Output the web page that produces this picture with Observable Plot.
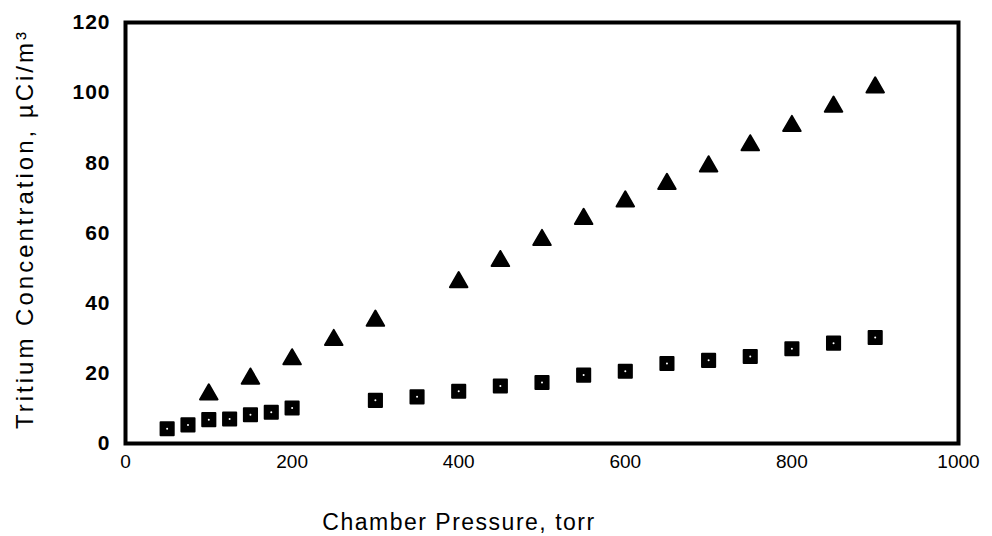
<!DOCTYPE html>
<html>
<head>
<meta charset="utf-8">
<script src="https://cdn.jsdelivr.net/npm/d3@7"></script>
<script src="https://cdn.jsdelivr.net/npm/@observablehq/plot@0.6"></script>
<style>
  html, body { margin: 0; padding: 0; background: #fff; }
  svg { display: block; }
</style>
</head>
<body>
<div id="chart"></div>
<script>
// Triangles series
const triPressure = [100, 150, 200, 250, 300, 400, 450, 500, 550, 600, 650, 700, 750, 800, 850, 900];
const triConc     = [14, 18.5, 24, 29.5, 35, 46, 52, 58, 64, 69, 74, 79, 85, 90.5, 96, 101.5];
// Squares series
const sqPressure = [50, 75, 100, 125, 150, 175, 200, 300, 350, 400, 450, 500, 550, 600, 650, 700, 750, 800, 850, 900];
const sqConc     = [4.2, 5.3, 6.8, 7.0, 8.2, 8.9, 10.1, 12.3, 13.3, 14.9, 16.4, 17.4, 19.5, 20.6, 22.8, 23.7, 24.8, 27.0, 28.6, 30.2];
// Axes
const xTicks = [0, 200, 400, 600, 800, 1000];
const yTicks = [0, 20, 40, 60, 80, 100, 120];
const xLabel = "Chamber Pressure, torr";
const yLabel = "Tritium Concentration, \u00B5Ci/m\u00B3";

const tri = triPressure.map((p, i) => ({p, c: triConc[i]}));
const sq = sqPressure.map((p, i) => ({p, c: sqConc[i]}));

const chart = Plot.plot({
  width: 992,
  height: 536,
  marginLeft: 125,
  marginRight: 34,
  marginTop: 22,
  marginBottom: 93,
  style: {background: "#fff", color: "#000"},
  x: {domain: [0, 1000]},
  y: {domain: [0, 120]},
  marks: [
    Plot.axisX({ticks: xTicks, tickFormat: d => String(d), tickSize: 0, tickPadding: 11, label: null,
      fontSize: 19, fontFamily: "'Liberation Sans', Arial, sans-serif"}),
    Plot.axisY({ticks: yTicks, tickFormat: d => String(d), tickSize: 0, tickPadding: 15, label: null,
      fontSize: 21, fontWeight: "bold", fontFamily: "'Liberation Sans', Arial, sans-serif"}),
    Plot.frame({stroke: "#000", strokeWidth: 4}),
    Plot.dot(tri, {x: "p", y: "c", symbol: "triangle", r: 6.5, fill: "#000", stroke: "#000", strokeWidth: 2, strokeLinejoin: "round"}),
    Plot.dot(sq, {x: "p", y: "c", symbol: "square", r: 7.4, fill: "#000", stroke: "#000", strokeWidth: 2, strokeLinejoin: "round"}),
    Plot.dot(sq, {x: "p", y: "c", r: 1, fill: "#fff"}),
    Plot.text([xLabel], {frameAnchor: "bottom", dx: -83, dy: 86, fontSize: 23, textAnchor: "middle",
      fontFamily: "'Liberation Sans', Arial, sans-serif", fill: "#000"}),
    Plot.text([yLabel], {frameAnchor: "left", dx: -100, dy: -4, rotate: -90, fontSize: 24, textAnchor: "middle",
      fontFamily: "'Liberation Sans', Arial, sans-serif", fill: "#000"})
  ]
});
document.getElementById("chart").appendChild(chart);
// letter spacing on the axis titles and y tick labels, to match the reference's wider typesetting
const texts = chart.querySelectorAll("text");
texts.forEach(t => {
  if (t.textContent === xLabel) t.setAttribute("letter-spacing", "1.5");
  if (t.textContent === yLabel) t.setAttribute("letter-spacing", "3");
});
chart.querySelectorAll('g[aria-label="y-axis tick label"] text').forEach(t => t.setAttribute("letter-spacing", "1"));
</script>
</body>
</html>
